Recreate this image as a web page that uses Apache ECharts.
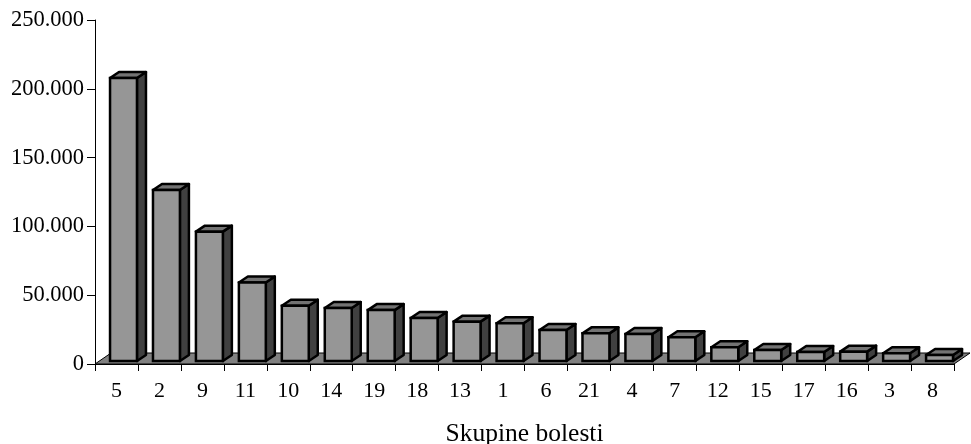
<!DOCTYPE html>
<html>
<head>
<meta charset="utf-8">
<script src="https://cdn.jsdelivr.net/npm/echarts@6/dist/echarts.min.js"></script>
<style>
html,body{margin:0;padding:0;background:#fff;}
#chart{width:971px;height:444px;}
</style>
</head>
<body>
<div id="chart"></div>
<script>
var categories = ['5','2','9','11','10','14','19','18','13','1','6','21','4','7','12','15','17','16','3','8'];
var values = [205700,124300,94000,57000,40200,38500,37000,31200,28600,27400,22500,20100,19600,17200,10000,8000,6500,6800,5600,4400];
var yTicks = [0,50000,100000,150000,200000,250000];
var axisTitle = 'Skupine bolesti';

var FONT = "'Liberation Serif','Times New Roman',serif";

function fmt(v){
  if (v === 0) return '0';
  var s = String(Math.round(v));
  return s.replace(/\B(?=(\d{3})+(?!\d))/g, '.');
}

var chart = echarts.init(document.getElementById('chart'), null, {renderer:'canvas'});

var option = {
  animation: false,
  backgroundColor: '#ffffff',
  grid: {left: 95, right: 17, top: 20, bottom: 80, containLabel: false, outerBoundsMode: 'none'},
  xAxis: {
    type: 'category',
    data: categories,
    boundaryGap: true,
    name: axisTitle,
    nameLocation: 'middle',
    nameGap: 57,
    nameTextStyle: {fontFamily: FONT, fontSize: 25.5, color: '#000'},
    axisLine: {show: true, lineStyle: {color: '#000', width: 1}},
    axisTick: {show: true, length: 7, alignWithLabel: false, lineStyle: {color: '#000'}},
    axisLabel: {fontFamily: FONT, fontSize: 22, color: '#000', margin: 16, interval: 0}
  },
  yAxis: {
    type: 'value',
    min: yTicks[0],
    max: yTicks[yTicks.length - 1],
    interval: yTicks[1] - yTicks[0],
    axisLine: {show: true, lineStyle: {color: '#000', width: 1}},
    axisTick: {show: true, length: 8, lineStyle: {color: '#000'}},
    splitLine: {show: false},
    axisLabel: {fontFamily: FONT, fontSize: 22.5, color: '#000', margin: 11, formatter: fmt}
  },
  series: [
    {
      type: 'custom',
      z: 1,
      data: [[0, 0]],
      renderItem: function(params, api){
        var cs = params.coordSys;
        var x0 = cs.x, x1 = cs.x + cs.width, y = cs.y + cs.height;
        var dx = 16, dy = -11;
        return {
          type: 'polygon',
          shape: {points: [[x0, y], [x1, y], [x1 + dx, y + dy], [x0 + dx, y + dy]]},
          style: {fill: '#808080', stroke: '#000', lineWidth: 1}
        };
      }
    },
    {
      type: 'custom',
      z: 2,
      data: values.map(function(v, i){ return [i, v]; }),
      renderItem: function(params, api){
        var i = api.value(0), v = api.value(1);
        var top = api.coord([i, v]);
        var base = api.coord([i, 0]);
        var bw = api.size([1, 0])[0];
        var catStart = top[0] - bw / 2;
        var L = catStart + bw * 0.35;
        var R = catStart + bw * 0.977;
        var yT = top[1] - 3;
        var yB = base[1] - 3;
        var dx = 9, dy = -6;
        var lw = 2.5;
        return {
          type: 'group',
          children: [
            {
              type: 'polygon',
              shape: {points: [[R, yT], [R + dx, yT + dy], [R + dx, yB + dy], [R, yB]]},
              style: {fill: '#404040', stroke: '#000', lineWidth: lw, lineJoin: 'round'}
            },
            {
              type: 'polygon',
              shape: {points: [[L, yT], [R, yT], [R + dx, yT + dy], [L + dx, yT + dy]]},
              style: {fill: '#737373', stroke: '#000', lineWidth: lw, lineJoin: 'round'}
            },
            {
              type: 'rect',
              shape: {x: L, y: yT, width: R - L, height: yB - yT},
              style: {fill: '#969696', stroke: '#000', lineWidth: lw}
            }
          ]
        };
      }
    }
  ]
};
chart.setOption(option);
</script>
</body>
</html>
